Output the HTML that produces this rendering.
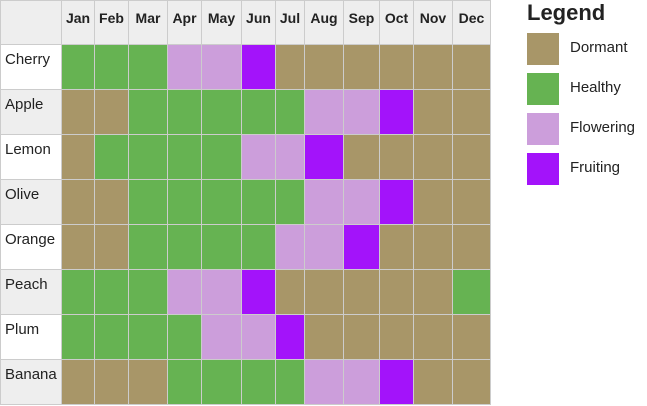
<!DOCTYPE html>
<html><head><meta charset="utf-8"><style>
body{margin:0;width:647px;height:406px;background:#fff;font-family:"Liberation Sans",sans-serif;position:relative;overflow:hidden}
.c{position:absolute;box-sizing:border-box;border-right:1px solid #ccc;border-bottom:1px solid #ccc}
.h{background:#eee;font-weight:bold;font-size:14px;color:#222;text-align:center;padding-top:9px}
.r{font-size:15px;color:#222;padding:6px 0 0 4px}
.lg{position:absolute}
</style></head><body>
<div id="grid"></div>
<div class="lg" style="left:527px;top:0px;font-size:22px;font-weight:bold;color:#222">Legend</div>
<div id="legend"></div>
<script>
const months=["Jan","Feb","Mar","Apr","May","Jun","Jul","Aug","Sep","Oct","Nov","Dec"];
const crops=["Cherry","Apple","Lemon","Olive","Orange","Peach","Plum","Banana"];
const stages=["Dormant","Healthy","Flowering","Fruiting"];
const stageColors=["#a89668","#66b352","#cc9edb","#a313fa"];
const cherry=[1,1,1,2,2,3,0,0,0,0,0,0];
const apple=[0,0,1,1,1,1,1,2,2,3,0,0];
const lemon=[0,1,1,1,1,2,2,3,0,0,0,0];
const olive=[0,0,1,1,1,1,1,2,2,3,0,0];
const orange=[0,0,1,1,1,1,2,2,3,0,0,0];
const peach=[1,1,1,2,2,3,0,0,0,0,0,1];
const plum=[1,1,1,1,2,2,3,0,0,0,0,0];
const banana=[0,0,0,1,1,1,1,2,2,3,0,0];
const values=[cherry,apple,lemon,olive,orange,peach,plum,banana];
const colEdges=[0,62,95,129,168,202,242,276,305,344,380,414,453,491];
const headerH=45,rowH=45;
const g=document.getElementById('grid');
function cell(x,y,w,h,cls){const d=document.createElement('div');d.className='c '+cls;d.style.left=x+'px';d.style.top=y+'px';d.style.width=w+'px';d.style.height=h+'px';g.appendChild(d);return d;}
let corner=cell(0,0,62,headerH,'h');


corner.style.borderLeft='1px solid #ccc';corner.style.borderTop='1px solid #ccc';
months.forEach((m,i)=>{const d=cell(colEdges[i+1],0,colEdges[i+2]-colEdges[i+1],headerH,'h');d.textContent=m;d.style.borderTop='1px solid #ccc';

});
crops.forEach((c,r)=>{const y=headerH+r*rowH;
const l=cell(0,y,62,rowH,'r');l.textContent=c;l.style.background=r%2?'#eee':'#fff';l.style.borderLeft='1px solid #ccc';


values[r].forEach((v,i)=>{const d=cell(colEdges[i+1],y,colEdges[i+2]-colEdges[i+1],rowH,'');d.style.background=stageColors[v];

});});
const lg=document.getElementById('legend');
stages.forEach((s,i)=>{const y=33+i*40;
const sw=document.createElement('div');sw.className='lg';sw.style.cssText='left:527px;top:'+y+'px;width:32px;height:32px;background:'+stageColors[i];

lg.appendChild(sw);
const t=document.createElement('div');t.className='lg';t.style.cssText='left:570px;top:'+(y+6)+'px;font-size:15px;color:#222';t.textContent=s;

lg.appendChild(t);});
</script>
</body></html>
